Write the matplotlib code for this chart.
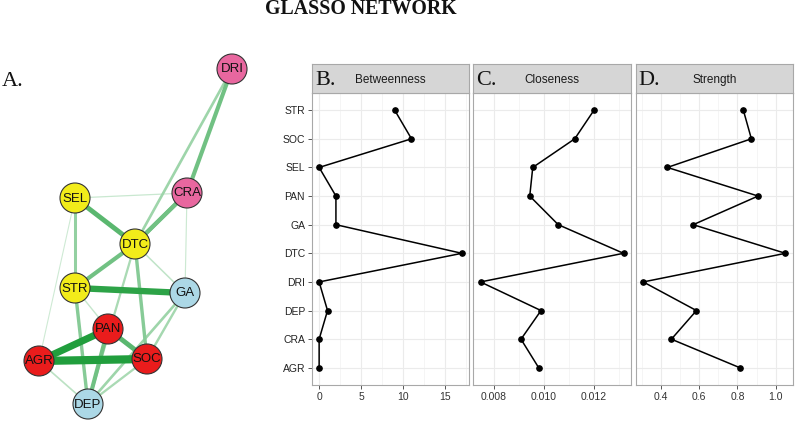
import matplotlib
matplotlib.use("Agg")
import matplotlib.pyplot as plt
from matplotlib.patches import Circle
from matplotlib.ticker import MultipleLocator, FixedLocator
import numpy as np

# ---------------- data ----------------
categories = ["AGR", "CRA", "DEP", "DRI", "DTC", "GA", "PAN", "SEL", "SOC", "STR"]
betweenness = [0, 0, 1, 0, 17, 2, 2, 0, 11, 9]
closeness = [0.00979, 0.00908, 0.00988, 0.00746, 0.01318, 0.01057, 0.00943, 0.00955, 0.01123, 0.01200]
strength = [0.814, 0.455, 0.586, 0.308, 1.051, 0.569, 0.908, 0.434, 0.873, 0.831]

node_names = ["DRI", "CRA", "SEL", "DTC", "STR", "GA", "PAN", "AGR", "SOC", "DEP"]
node_x = [232, 187, 75, 135, 75, 185, 108, 39, 147, 88]
node_y = [69, 193, 198, 244, 288, 293, 329, 361, 359, 404]
node_colors = ["#e8679f", "#e8679f", "#f2ec1a", "#f2ec1a", "#f2ec1a",
               "#acd8e6", "#ea1c1c", "#ea1c1c", "#ea1c1c", "#acd8e6"]

edge_from = ["SEL", "CRA", "SEL", "STR", "DTC", "AGR", "DTC", "SOC", "GA", "DRI",
             "GA", "SEL", "STR", "DTC", "CRA", "DTC", "PAN", "STR", "CRA",
             "PAN", "SEL", "STR", "AGR", "AGR"]
edge_to = ["AGR", "GA", "CRA", "PAN", "GA", "DEP", "DEP", "DEP", "SOC", "DTC",
           "DEP", "STR", "DEP", "SOC", "DRI", "CRA", "DEP", "DTC", "DTC",
           "SOC", "DTC", "GA", "PAN", "SOC"]
edge_weight = [0.04, 0.05, 0.06, 0.08, 0.10, 0.12, 0.20, 0.20, 0.22, 0.25,
               0.25, 0.30, 0.35, 0.35, 0.45, 0.45, 0.45, 0.45, 0.45,
               0.55, 0.55, 0.75, 0.85, 1.0]

W, H = 800, 421
fig = plt.figure(figsize=(W / 100, H / 100), dpi=100)
fig.patch.set_facecolor("white")

sans = ["Liberation Sans", "DejaVu Sans"]
serif = ["Liberation Serif", "DejaVu Serif"]

# title
fig.text(361 / W, 1 - 9 / H, "GLASSO NETWORK", ha="center", va="center",
         family=serif, fontweight="bold", fontsize=14.3, color="#111111")

# ---------------- network (panel A) ----------------
axn = fig.add_axes([0, 0, 300 / W, 1])
axn.set_xlim(0, 300)
axn.set_ylim(H, 0)
axn.axis("off")
pos = {n: (x, y) for n, x, y in zip(node_names, node_x, node_y)}
green = np.array([0.13, 0.62, 0.24])
white = np.array([1.0, 1.0, 1.0])
order = np.argsort(edge_weight, kind="stable")
for i in order:
    w = edge_weight[i]
    a = 0.18 + 0.82 * min(1.0, w * 1.25)
    col = white * (1 - a) + green * a
    (x1, y1), (x2, y2) = pos[edge_from[i]], pos[edge_to[i]]
    axn.plot([x1, x2], [y1, y2], color=col, lw=(0.8 + 7.4 * w) * 0.72,
             solid_capstyle="butt", zorder=1)
for n, c in zip(node_names, node_colors):
    x, y = pos[n]
    axn.add_patch(Circle((x, y), 15, facecolor=c, edgecolor="#333333", lw=0.8, zorder=3))
    axn.text(x, y + 0.5, n, ha="center", va="center", family=sans, fontsize=9.5,
             color="#111111", zorder=4)
fig.text(2 / W, 1 - 81 / H, "A.", ha="left", va="center", family=serif,
         fontsize=16, color="#111111")

# ---------------- centrality panels ----------------
bottom = 1 - 385 / H
top = 1 - 93 / H
strip_top = 1 - 64 / H
panels = [
    (312, 469, betweenness, "B.", "Betweenness", (-0.85, 17.85), [0, 5, 10, 15], 2.5, "{:g}"),
    (473.3, 630.7, closeness, "C.", "Closeness", (0.007172, 0.013468), [0.008, 0.010, 0.012], 0.001, "{:.3f}"),
    (635.7, 793, strength, "D.", "Strength", (0.2685, 1.0905), [0.4, 0.6, 0.8, 1.0], 0.1, "{:.1f}"),
]
ypos = np.arange(len(categories))
border = "#a8a8a8"
for k, (l, r, vals, letter, name, xlim, ticks, minor, fmt) in enumerate(panels):
    ax = fig.add_axes([l / W, bottom, (r - l) / W, top - bottom])
    ax.set_xlim(*xlim)
    ax.set_ylim(-0.6, len(categories) - 0.4)
    ax.xaxis.set_major_locator(FixedLocator(ticks))
    ax.xaxis.set_minor_locator(MultipleLocator(minor))
    ax.set_xticklabels([fmt.format(t) for t in ticks])
    ax.set_yticks(ypos)
    ax.grid(True, which="major", color="#ebebeb", lw=0.8, zorder=0)
    ax.grid(True, which="minor", axis="x", color="#f4f4f4", lw=0.6, zorder=0)
    ax.set_axisbelow(True)
    for s in ax.spines.values():
        s.set_color(border)
        s.set_linewidth(0.8)
    ax.tick_params(axis="x", which="major", length=3, width=0.7, color="#555555",
                   labelsize=7.5, labelcolor="#333333", pad=2)
    ax.tick_params(axis="x", which="minor", length=0)
    if k == 0:
        ax.set_yticklabels(categories)
        ax.tick_params(axis="y", length=3, width=0.7, color="#555555",
                       labelsize=7.5, labelcolor="#222222", pad=2)
    else:
        ax.tick_params(axis="y", length=0, labelleft=False)
    for lab in ax.get_xticklabels() + ax.get_yticklabels():
        lab.set_family(sans)
    ax.plot(vals, ypos, color="black", lw=1.1, marker="o", markersize=3.8, zorder=3)

    sx = fig.add_axes([l / W, top, (r - l) / W, strip_top - top])
    sx.set_facecolor("#d6d6d6")
    sx.set_xticks([]); sx.set_yticks([])
    for s in sx.spines.values():
        s.set_color(border)
        s.set_linewidth(0.8)
    sx.text(0.5, 0.46, name, transform=sx.transAxes, ha="center", va="center",
            family=sans, fontsize=8.5, color="#1a1a1a")
    sx.text(3 / (r - l), 0.42, letter, transform=sx.transAxes, ha="left", va="center",
            family=serif, fontsize=16, color="#111111")

fig.savefig("out.png", dpi=100, facecolor="white")
